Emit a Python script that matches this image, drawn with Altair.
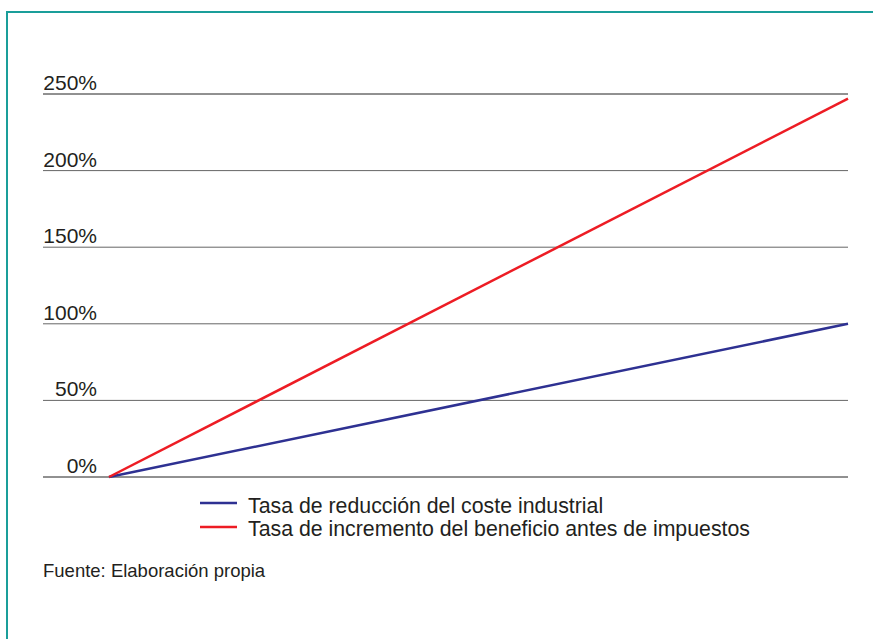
import altair as alt
import pandas as pd

# Percentage gridlines and their labels
ticks = [0, 50, 100, 150, 200, 250]
tick_labels = ["0%", "50%", "100%", "150%", "200%", "250%"]

# Two straight series: start and end point of each
steps = [0, 1]
reduccion_coste = [0, 100]
incremento_beneficio = [0, 247]

series_names = [
    "Tasa de reducción del coste industrial",
    "Tasa de incremento del beneficio antes de impuestos",
]
series_colors = ["#2e3192", "#ed1c24"]
source_note = "Fuente: Elaboración propia"

FONT = "Liberation Sans"
INK = "#231f20"

grid_df = pd.DataFrame({"v": ticks, "label": tick_labels})
lines_df = pd.DataFrame(
    {
        "step": steps + steps,
        "pct": reduccion_coste + incremento_beneficio,
        "serie": [series_names[0]] * len(steps) + [series_names[1]] * len(steps),
    }
)

x_scale = alt.Scale(domain=[0, 1], range=[109, 848])
y_scale = alt.Scale(domain=[0, 250], range=[477, 94])

grid = (
    alt.Chart(grid_df)
    .mark_rule(strokeWidth=1)
    .encode(
        y=alt.Y("v:Q", scale=y_scale, axis=None),
        x=alt.value(43),
        x2=alt.value(848),
        color=alt.condition(
            "datum.v == 0 || datum.v == 250", alt.value("#222222"), alt.value("#666666")
        ),
    )
)

grid_labels = (
    alt.Chart(grid_df)
    .mark_text(align="right", baseline="alphabetic", dy=-4, fontSize=21, font=FONT, color=INK)
    .encode(
        x=alt.value(97),
        y=alt.Y("v:Q", scale=y_scale, axis=None),
        text="label:N",
    )
)

lines = (
    alt.Chart(lines_df)
    .mark_line(strokeWidth=2.5)
    .encode(
        x=alt.X("step:Q", scale=x_scale, axis=None),
        y=alt.Y("pct:Q", scale=y_scale, axis=None),
        color=alt.Color(
            "serie:N",
            scale=alt.Scale(domain=series_names, range=series_colors),
            legend=None,
        ),
    )
)

# Hand-placed legend below the plot
legend_layers = []
for i, name in enumerate(series_names):
    row = alt.Chart(pd.DataFrame({"serie": [name]}))
    legend_layers.append(
        row.mark_rule(strokeWidth=2.5, color=series_colors[i]).encode(
            x=alt.value(200), x2=alt.value(237), y=alt.value(503 + 24 * i)
        )
    )
    legend_layers.append(
        row.mark_text(
            align="left", baseline="alphabetic", fontSize=21.3, font=FONT, color=INK
        ).encode(x=alt.value(248), y=alt.value(513 + 23 * i), text="serie:N")
    )

source = (
    alt.Chart(pd.DataFrame({"t": [source_note]}))
    .mark_text(align="left", baseline="alphabetic", fontSize=18.5, font=FONT, color=INK)
    .encode(x=alt.value(43), y=alt.value(577), text="t:N")
)

frame = (
    alt.Chart(pd.DataFrame({"f": [1]}))
    .mark_rect(fillOpacity=0, stroke="#1a9e9a", strokeWidth=2)
    .encode(x=alt.value(7), y=alt.value(12), x2=alt.value(900), y2=alt.value(700))
)

chart = (
    alt.layer(frame, grid, grid_labels, lines, *legend_layers, source)
    .properties(
        width=873,
        height=639,
        padding=0,
        autosize=alt.AutoSizeParams(type="none"),
        background="white",
    )
    .configure_view(stroke=None)
)

chart.save("out.html", embed_options={"renderer": "svg", "actions": False})
